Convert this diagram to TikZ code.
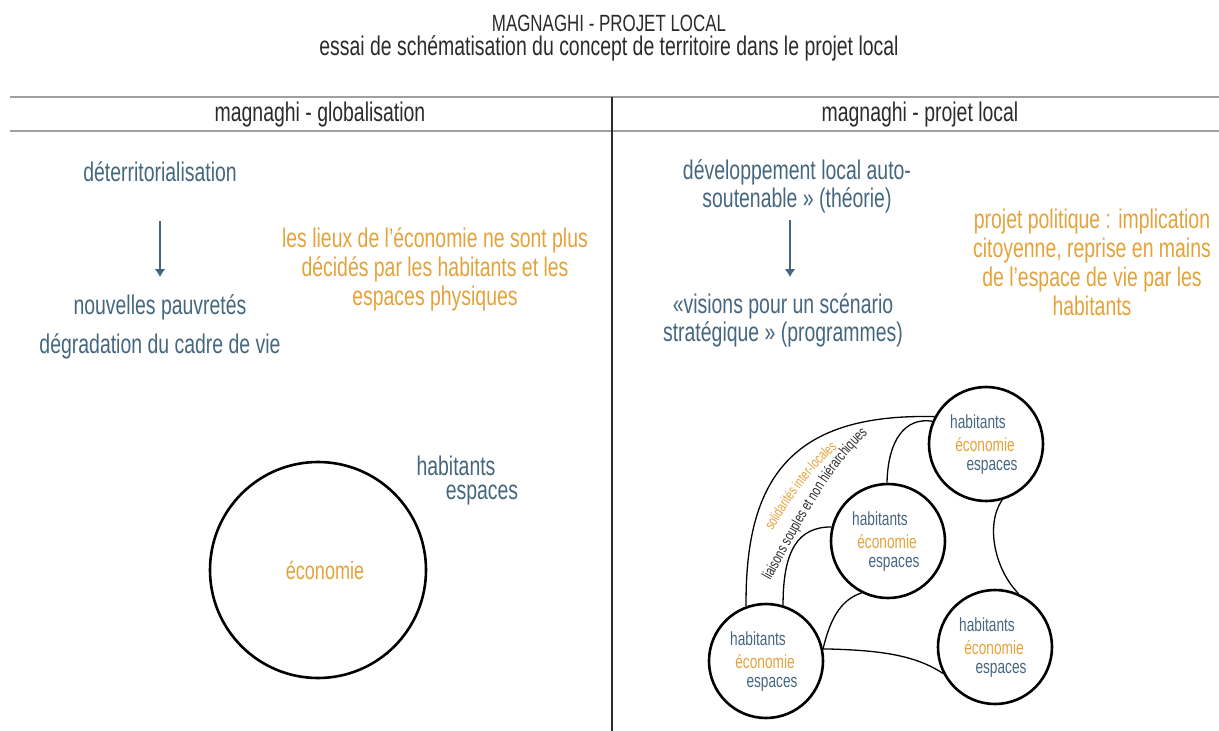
\documentclass[tikz,border=0pt]{standalone}
\usepackage{fontspec}
\usetikzlibrary{arrows.meta,decorations.text}
\setmainfont[FakeStretch=0.72]{Liberation Sans}
\definecolor{slate}{HTML}{44677F}
\definecolor{ochre}{HTML}{E4A23A}
\definecolor{ink}{HTML}{2B2B2B}
\tikzset{
  big/.style={font=\fontsize{27}{30}\selectfont, text=ink},
  bluetxt/.style={font=\fontsize{27}{30}\selectfont, text=slate, align=center},
  orangetxt/.style={font=\fontsize{27}{29}\selectfont, text=ochre, align=center},
  hub/.style={draw=black, line width=2.6pt, circle, inner sep=0pt},
  tiny/.style={font=\fontsize{19}{22}\selectfont},
  link/.style={draw=black, line width=1.3pt},
  rule/.style={draw=gray!75, line width=2pt}
}
\begin{document}
\begin{tikzpicture}[x=1pt, y=-1pt]
    \useasboundingbox (0,0) rectangle (1219,731);

    % title
    \node[big, font=\fontsize{23.5}{26}\selectfont] (title) at (609,23) {MAGNAGHI - PROJET LOCAL};
    \node[big] (subtitle) at (609,48) {essai de schématisation du concept de territoire dans le projet local};

    % table frame
    \draw[rule] (10,97) -- (1219,97);
    \draw[rule] (10,131) -- (1219,131);
    \draw[draw=ink, line width=1.2pt] (612,97) -- (612,731);
    \node[big] (headL) at (320,115) {magnaghi - globalisation};
    \node[big] (headR) at (920,115) {magnaghi - projet local};

    % left column
    \node[bluetxt] (deterr) at (160,172) {déterritorialisation};
    \node[bluetxt, font=\fontsize{27}{39}\selectfont] (pauvre) at (160,327) {nouvelles pauvretés\\dégradation du cadre de vie};
    \draw[slate, line width=1.6pt, -{Latex[length=8pt,width=11pt]}] (160,221) -- (160,277);
    \node[orangetxt] (lieux) at (435,269) {les lieux de l'économie ne sont plus\\décidés par les habitants et les\\espaces physiques};
    \node[hub, minimum size=216pt] (globe) at (318,570) {};
    \node[font=\fontsize{25}{28}\selectfont, text=ochre] (eco) at (325,570) {économie};
    \node[font=\fontsize{27}{30}\selectfont, text=slate] (hab) at (456,466) {habitants};
    \node[font=\fontsize{27}{30}\selectfont, text=slate] (esp) at (482,495) {espaces};

    % right column
    \node[bluetxt, font=\fontsize{27}{28}\selectfont] (devel) at (797,186) {développement local auto-\\soutenable » (théorie)};
    \draw[slate, line width=1.6pt, -{Latex[length=8pt,width=11pt]}] (790,220) -- (790,277);
    \node[bluetxt, font=\fontsize{27}{28}\selectfont] (visions) at (783,320) {«visions pour un scénario\\stratégique » (programmes)};
    \node[orangetxt] (politique) at (1092,262) {projet politique : implication\\citoyenne, reprise en mains\\de l'espace de vie par les\\habitants};

    % territories
    \foreach \n/\px/\py in {c1/986/444, c2/888/541, c3/766/661, c4/995/647} {
      \node[hub, minimum size=114pt] (\n) at (\px,\py) {};
      \node[tiny, text=slate] at ([xshift=-8pt,yshift=22pt]\n.center) {habitants};
      \node[tiny, text=ochre] at ([xshift=-1pt,yshift=-1pt]\n.center) {économie};
      \node[tiny, text=slate] at ([xshift=6pt,yshift=-23pt]\n.center) {espaces};
    }

    \path[link] (c3.110) .. controls (745,480) and (790,413) .. (c1.152);
    \path[link] (c3.73) .. controls (783,550) and (798,527) .. (c2.166);
    \path[link] (c2.91) .. controls (888,440) and (905,417) .. (c1.157);
    \path[link] (c2.-117) .. controls (840,600) and (830,620) .. (c3.12);
    \path[link] (c3.12) .. controls (880,650) and (915,655) .. (c4.207);
    \path[link] (c1.-74) .. controls (985,525) and (995,570) .. (c4.66);

    % labels along the arcs
    \path[decorate, decoration={text along path, text align=center,
      text={|\fontsize{14.5}{16}\selectfont\color{ochre}|solidarités inter-locales}}]
      (769,537) .. controls (789,502) and (810,470) .. (843,443);
    \path[decorate, decoration={text along path, text align=center,
      text={|\fontsize{15}{17}\selectfont\color{ink}|liaisons souples et non hiérarchiques}}]
      (765,590) .. controls (792,545) and (827,465) .. (876,427);
\end{tikzpicture}
\end{document}
